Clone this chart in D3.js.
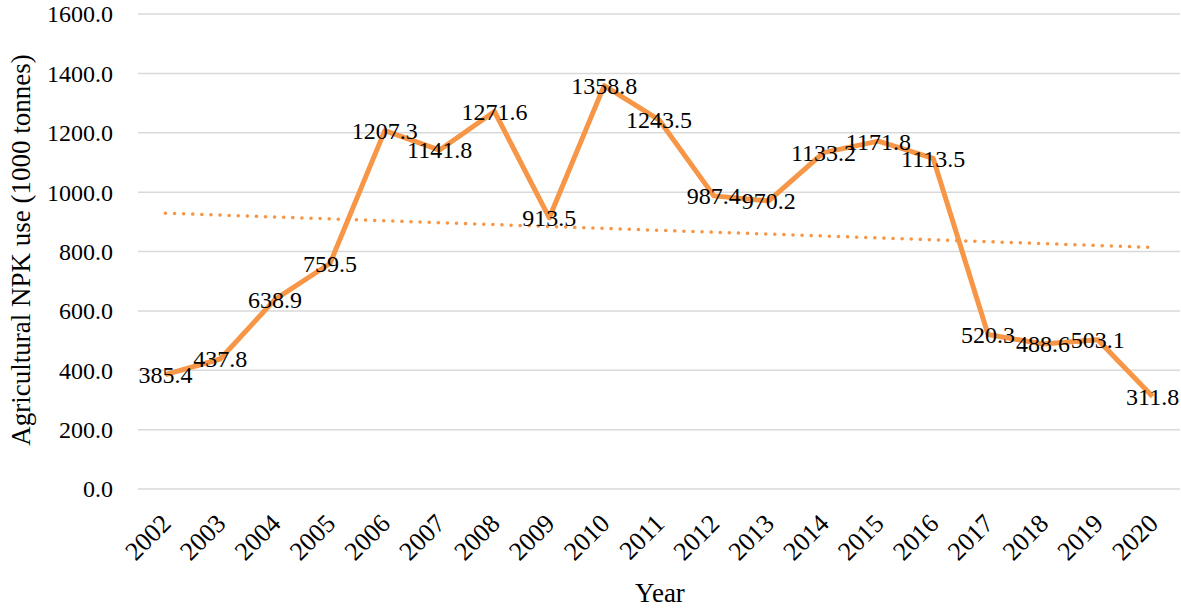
<!DOCTYPE html>
<html lang="en">
<head>
    <meta charset="UTF-8">
    <title>Agricultural NPK use</title>
    <script src="https://d3js.org/d3.v7.min.js"></script>
    <style>
        body { margin: 0; background: #fff; font-family: "Liberation Serif", "Times New Roman", serif; }
        text { fill: #000; }
        .grid line { stroke: #d9d9d9; stroke-width: 1.5; }
    </style>
</head>
<body>

<div id="chart"></div>

<script>
var years = ["2002", "2003", "2004", "2005", "2006", "2007", "2008", "2009", "2010", "2011",
             "2012", "2013", "2014", "2015", "2016", "2017", "2018", "2019", "2020"];
var npkUse = [385.4, 437.8, 638.9, 759.5, 1207.3, 1141.8, 1271.6, 913.5, 1358.8, 1243.5,
              987.4, 970.2, 1133.2, 1171.8, 1113.5, 520.3, 488.6, 503.1, 311.8];
var yTicks = [0, 200, 400, 600, 800, 1000, 1200, 1400, 1600];

var width = 1181, height = 610;
var orange = "#f79646";

var svg = d3.select("#chart").append("svg")
    .attr("width", width)
    .attr("height", height);

var x = d3.scalePoint()
    .domain(years)
    .range([138, 1180])
    .padding(0.5);

var y = d3.scaleLinear()
    .domain([0, 1600])
    .range([489, 14]);

// gridlines
svg.append("g")
    .attr("class", "grid")
    .selectAll("line")
    .data(yTicks)
    .enter().append("line")
    .attr("x1", 138)
    .attr("x2", 1180)
    .attr("y1", function(d) { return y(d); })
    .attr("y2", function(d) { return y(d); });

// y tick labels
svg.append("g")
    .selectAll("text")
    .data(yTicks)
    .enter().append("text")
    .attr("x", 113)
    .attr("y", function(d) { return y(d); })
    .attr("dy", "0.35em")
    .attr("text-anchor", "end")
    .style("font-size", "24px")
    .text(function(d) { return d.toFixed(1); });

// x tick labels, rotated
svg.append("g")
    .selectAll("text")
    .data(years)
    .enter().append("text")
    .attr("transform", function(d) { return "translate(" + (x(d) + 7) + ",525) rotate(-45)"; })
    .attr("text-anchor", "end")
    .style("font-size", "26px")
    .text(function(d) { return d; });

// linear trendline (least squares over the series)
var n = npkUse.length;
var mx = (n - 1) / 2, my = d3.mean(npkUse);
var sxy = 0, sxx = 0;
npkUse.forEach(function(v, i) { sxy += (i - mx) * (v - my); sxx += (i - mx) * (i - mx); });
var slope = sxy / sxx, icpt = my - slope * mx;

svg.append("line")
    .attr("x1", x(years[0]))
    .attr("x2", x(years[n - 1]))
    .attr("y1", y(icpt))
    .attr("y2", y(icpt + slope * (n - 1)))
    .attr("stroke", orange)
    .attr("stroke-width", 3.5)
    .attr("stroke-linecap", "round")
    .attr("stroke-dasharray", "0.1 9");

// main line
var line = d3.line()
    .x(function(d, i) { return x(years[i]); })
    .y(function(d) { return y(d); });

svg.append("path")
    .datum(npkUse)
    .attr("d", line)
    .attr("fill", "none")
    .attr("stroke", orange)
    .attr("stroke-width", 5)
    .attr("stroke-linejoin", "round");

// data labels, centred on the points
svg.append("g")
    .selectAll("text")
    .data(npkUse)
    .enter().append("text")
    .attr("x", function(d, i) { return x(years[i]); })
    .attr("y", function(d) { return y(d); })
    .attr("dy", "0.35em")
    .attr("text-anchor", "middle")
    .style("font-size", "24px")
    .text(function(d) { return d.toFixed(1); });

// axis titles
svg.append("text")
    .attr("transform", "translate(30,250) rotate(-90)")
    .attr("text-anchor", "middle")
    .style("font-size", "27px")
    .text("Agricultural NPK use (1000 tonnes)");

svg.append("text")
    .attr("x", 660)
    .attr("y", 602)
    .attr("text-anchor", "middle")
    .style("font-size", "27px")
    .text("Year");
</script>

</body>
</html>
